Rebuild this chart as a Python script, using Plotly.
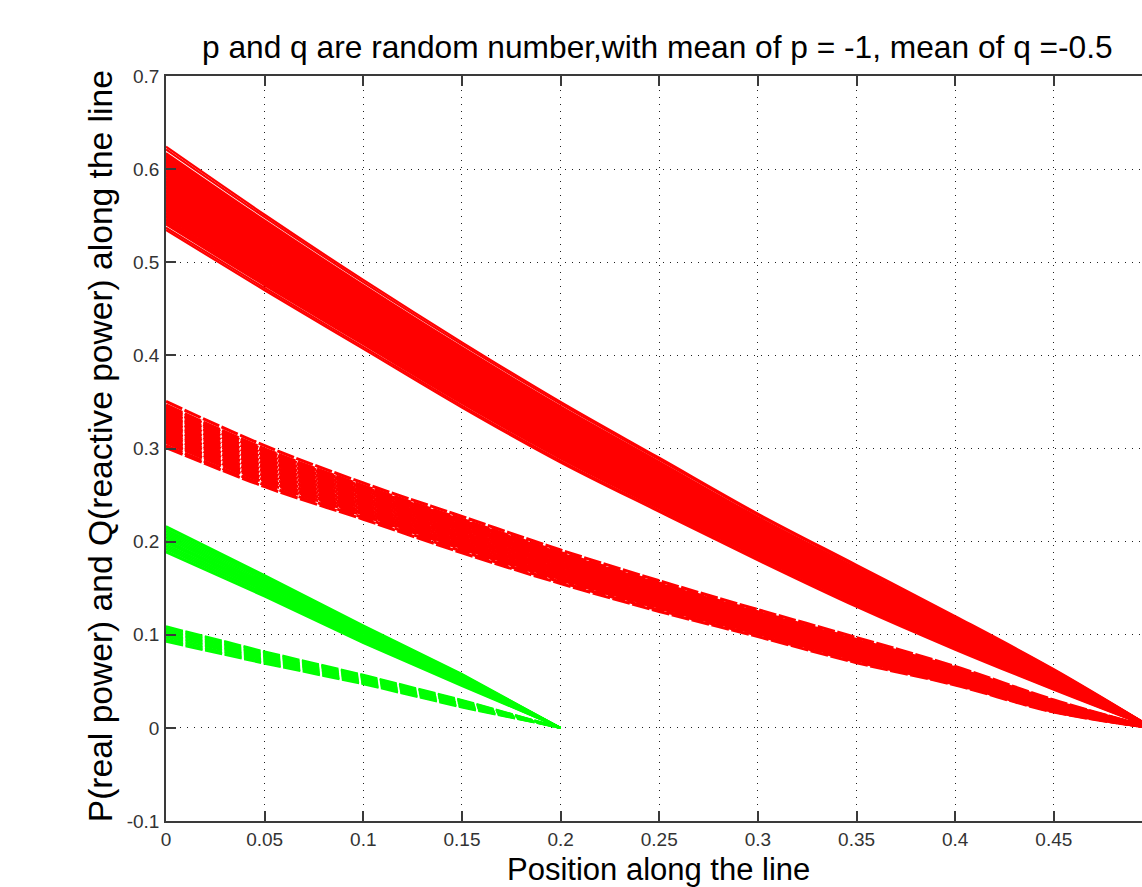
import plotly.graph_objects as go

# ---------------- data ----------------
title_text = "p and q are random number,with mean of p = -1, mean of q =-0.5"
x_label = "Position along the line"
y_label = "P(real power) and Q(reactive power) along the line"

x_tick_vals = [0, 0.05, 0.1, 0.15, 0.2, 0.25, 0.3, 0.35, 0.4, 0.45, 0.5]
x_tick_text = ["0", "0.05", "0.1", "0.15", "0.2", "0.25", "0.3", "0.35", "0.4", "0.45", "0.5"]
y_tick_vals = [-0.1, 0, 0.1, 0.2, 0.3, 0.4, 0.5, 0.6, 0.7]
y_tick_text = ["-0.1", "0", "0.1", "0.2", "0.3", "0.4", "0.5", "0.6", "0.7"]

# positions along the line where the band edges were read
red_positions = [0, 0.05, 0.1, 0.15, 0.2, 0.25, 0.3, 0.35, 0.4, 0.45, 0.5]
green_positions = [0, 0.05, 0.1, 0.15, 0.2]

# outer edges of each bundle of curves, read at the positions above
red_p_upper = [0.6240, 0.551, 0.481, 0.414, 0.350, 0.290, 0.230, 0.175, 0.120, 0.063, 0.0]
red_p_lower = [0.5346, 0.470, 0.407, 0.344, 0.285, 0.232, 0.180, 0.130, 0.084, 0.041, 0.0]
red_q_upper = [0.3505, 0.303, 0.263, 0.227, 0.191, 0.158, 0.127, 0.097, 0.066, 0.030, 0.0]
red_q_lower = [0.3010, 0.259, 0.224, 0.188, 0.155, 0.125, 0.098, 0.070, 0.046, 0.017, 0.0]
green_p_upper = [0.2165, 0.164, 0.110, 0.058, 0.0]
green_p_lower = [0.1885, 0.141, 0.091, 0.045, 0.0]
green_q_upper = [0.1090, 0.082, 0.057, 0.030, 0.0]
green_q_lower = [0.0925, 0.069, 0.047, 0.022, 0.0]

# sending-end values (position 0) of the individual curves in each bundle
# P (real power), long line - red solid curves
red_p_start = [0.6240, 0.6212, 0.6172, 0.6158, 0.6141, 0.6127, 0.6110, 0.6094, 0.6081,
               0.6063, 0.6049, 0.6032, 0.6018, 0.6001, 0.5986, 0.5970, 0.5955, 0.5939,
               0.5924, 0.5907, 0.5893, 0.5876, 0.5861, 0.5845, 0.5830, 0.5813, 0.5799,
               0.5782, 0.5767, 0.5751, 0.5736, 0.5719, 0.5705, 0.5688, 0.5673, 0.5657,
               0.5642, 0.5626, 0.5611, 0.5595, 0.5579, 0.5564, 0.5548, 0.5532, 0.5517,
               0.5501, 0.5486, 0.5469, 0.5455, 0.5438, 0.5421, 0.5405, 0.5372, 0.5346]
# Q (reactive power), long line - red dashed curves
red_q_start = [0.3505, 0.3468, 0.3452, 0.3436, 0.3420, 0.3403, 0.3387, 0.3370, 0.3355,
               0.3338, 0.3322, 0.3305, 0.3289, 0.3272, 0.3256, 0.3239, 0.3222, 0.3206,
               0.3190, 0.3173, 0.3157, 0.3140, 0.3123, 0.3107, 0.3092, 0.3077, 0.3062,
               0.3032, 0.3010]
# P (real power), short line - green solid curves
green_p_start = [0.2165, 0.2149, 0.2132, 0.2116, 0.2099, 0.2083, 0.2066, 0.2050, 0.2034,
                 0.2017, 0.2001, 0.1985, 0.1968, 0.1952, 0.1935, 0.1918, 0.1899, 0.1885]
# Q (reactive power), short line - green dashed curves
green_q_start = [0.1090, 0.1075, 0.1058, 0.1042, 0.1026, 0.1009, 0.0993, 0.0976, 0.0958,
                 0.0940, 0.0925]

RED = "#ff0000"
GREEN = "#00ff00"
FONT = "Liberation Sans, Arial, Helvetica, sans-serif"


def band_curves(starts, positions, upper, lower):
    """Each curve keeps its place inside the bundle given by its sending-end value."""
    s_hi, s_lo = max(starts), min(starts)
    curves = []
    for s in starts:
        f = (s - s_lo) / (s_hi - s_lo)
        curves.append([lo + f * (hi - lo) for hi, lo in zip(upper, lower)])
    return curves


def add_curves(fig, positions, curves, color, width, dash, shape):
    xs, ys = [], []
    for c in curves:
        xs += list(positions) + [None]
        ys += c + [None]
    fig.add_trace(go.Scatter(x=xs, y=ys, mode="lines", connectgaps=False,
                             line=dict(color=color, width=width, dash=dash,
                                       shape=shape, smoothing=1.0 if shape == "spline" else None),
                             hoverinfo="skip", showlegend=False))


fig = go.Figure()
add_curves(fig, red_positions, band_curves(red_p_start, red_positions, red_p_upper, red_p_lower),
           RED, 2.2, "solid", "spline")
# dashed curves split into three groups whose dash phases slowly drift apart
red_q_curves = band_curves(red_q_start, red_positions, red_q_upper, red_q_lower)
red_q_dashes = ["17.8px,2.5px", "18.0px,2.5px", "18.2px,2.5px"]
for k, d in enumerate(red_q_dashes):
    add_curves(fig, red_positions, red_q_curves[k::3], RED, 3.0, d, "spline")
add_curves(fig, green_positions,
           band_curves(green_p_start, green_positions, green_p_upper, green_p_lower),
           GREEN, 2.0, "solid", "linear")
add_curves(fig, green_positions,
           band_curves(green_q_start, green_positions, green_q_upper, green_q_lower),
           GREEN, 2.2, "17.5px,2.5px", "linear")

W, H = 1142, 887
L, T, B = 166, 76, 66
px_per_unit = 1973.0
x_right = (W - L) / px_per_unit

axis_color = "#3a3a3a"
grid_color = "#202020"
fig.update_layout(
    width=W, height=H,
    margin=dict(l=L, r=0, t=T, b=B, pad=0),
    paper_bgcolor="white", plot_bgcolor="white",
    font=dict(family=FONT, color="#000000"),
    showlegend=False,
)
fig.update_xaxes(
    range=[0, x_right], tickvals=x_tick_vals, ticktext=x_tick_text,
    showline=True, linecolor=axis_color, linewidth=1.5, mirror="ticks",
    ticks="inside", ticklen=10, tickwidth=1.5, tickcolor=axis_color,
    showgrid=True, gridcolor=grid_color, gridwidth=1, griddash="1px,6px",
    zeroline=False, tickfont=dict(family=FONT, size=19, color="#333333"),
    ticklabelstandoff=0,
)
fig.update_yaxes(
    range=[-0.1, 0.7], tickvals=y_tick_vals, ticktext=y_tick_text,
    showline=True, linecolor=axis_color, linewidth=1.5, mirror=False,
    ticks="inside", ticklen=10, tickwidth=1.5, tickcolor=axis_color,
    showgrid=True, gridcolor=grid_color, gridwidth=1, griddash="1px,6px",
    zeroline=False, tickfont=dict(family=FONT, size=19, color="#333333"),
    ticklabelstandoff=1,
)

plot_w = W - L
fig.add_annotation(text=title_text, xref="paper", yref="paper",
                   x=(657 - L) / plot_w, y=1, yshift=9, xanchor="center", yanchor="bottom",
                   showarrow=False, font=dict(family=FONT, size=31.7, color="#000000"))
fig.add_annotation(text=x_label, xref="paper", yref="paper",
                   x=(658 - L) / plot_w, y=0, yshift=-29, xanchor="center", yanchor="top",
                   showarrow=False, font=dict(family=FONT, size=31, color="#000000"))
fig.add_annotation(text=y_label, xref="paper", yref="paper", textangle=-90,
                   x=(100 - L) / plot_w, y=0.503, xanchor="center", yanchor="middle",
                   showarrow=False, font=dict(family=FONT, size=33.6, color="#000000"))

fig.write_html("out.html", config={"displayModeBar": False},
               post_script="document.body.style.margin='0';document.body.style.overflow='hidden';")
